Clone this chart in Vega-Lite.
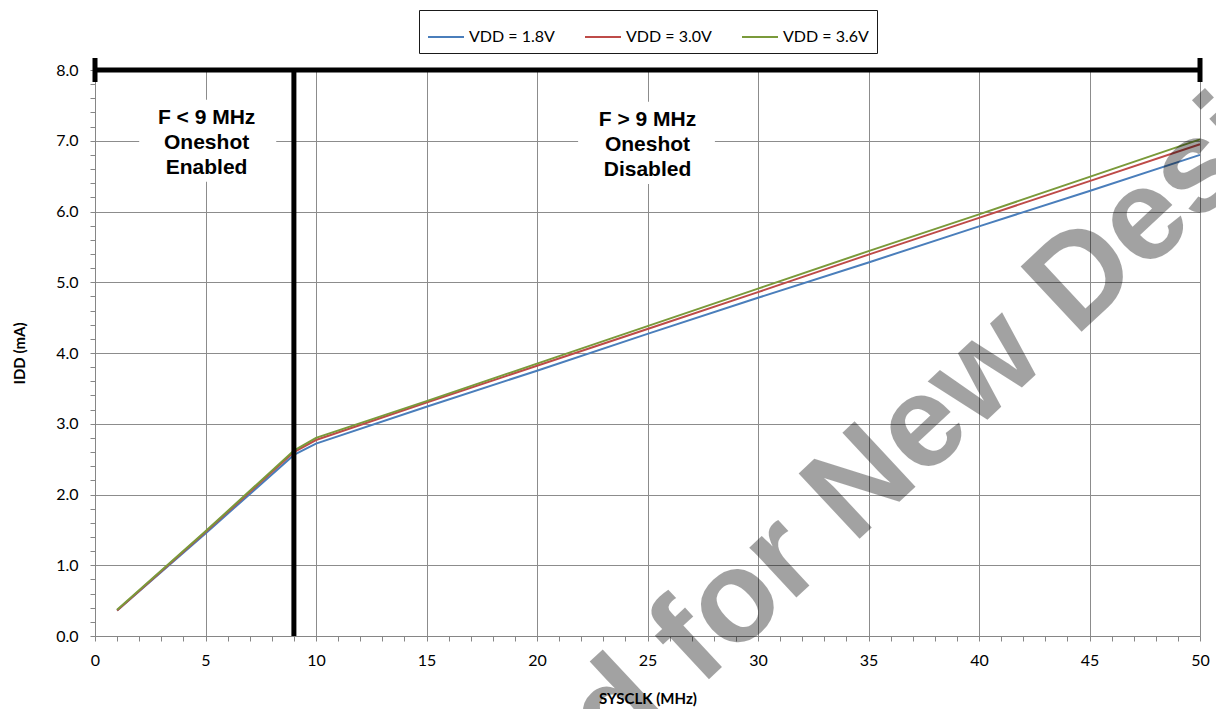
{
  "$schema": "https://vega.github.io/schema/vega-lite/v6.json",
  "width": 1105,
  "height": 566,
  "autosize": {"type": "none"},
  "padding": {"left": 95, "top": 70, "right": 16, "bottom": 73},
  "background": "white",
  "config": {
    "font": "Lato",
    "view": {"stroke": null},
    "axis": {
      "domainColor": "#868686",
      "tickColor": "#868686",
      "gridColor": "#8c8c8c",
      "gridWidth": 1,
      "labelColor": "#000000",
      "titleColor": "#000000",
      "labelFont": "Lato",
      "titleFont": "Lato",
      "labelFontSize": 16,
      "titleFontSize": 15,
      "titleFontWeight": "bold",
      "tickSize": 5
    }
  },
  "datasets": {
    "curves": [
      {"x": 1, "y": 0.36, "series": "VDD = 1.8V"},
      {"x": 5, "y": 1.45, "series": "VDD = 1.8V"},
      {"x": 9, "y": 2.56, "series": "VDD = 1.8V"},
      {"x": 10, "y": 2.72, "series": "VDD = 1.8V"},
      {"x": 15, "y": 3.24, "series": "VDD = 1.8V"},
      {"x": 20, "y": 3.75, "series": "VDD = 1.8V"},
      {"x": 25, "y": 4.27, "series": "VDD = 1.8V"},
      {"x": 30, "y": 4.78, "series": "VDD = 1.8V"},
      {"x": 35, "y": 5.28, "series": "VDD = 1.8V"},
      {"x": 40, "y": 5.79, "series": "VDD = 1.8V"},
      {"x": 45, "y": 6.29, "series": "VDD = 1.8V"},
      {"x": 50, "y": 6.80, "series": "VDD = 1.8V"},
      {"x": 1, "y": 0.36, "series": "VDD = 3.0V"},
      {"x": 5, "y": 1.47, "series": "VDD = 3.0V"},
      {"x": 9, "y": 2.60, "series": "VDD = 3.0V"},
      {"x": 10, "y": 2.77, "series": "VDD = 3.0V"},
      {"x": 15, "y": 3.30, "series": "VDD = 3.0V"},
      {"x": 20, "y": 3.82, "series": "VDD = 3.0V"},
      {"x": 25, "y": 4.34, "series": "VDD = 3.0V"},
      {"x": 30, "y": 4.86, "series": "VDD = 3.0V"},
      {"x": 35, "y": 5.39, "series": "VDD = 3.0V"},
      {"x": 40, "y": 5.91, "series": "VDD = 3.0V"},
      {"x": 45, "y": 6.43, "series": "VDD = 3.0V"},
      {"x": 50, "y": 6.95, "series": "VDD = 3.0V"},
      {"x": 1, "y": 0.37, "series": "VDD = 3.6V"},
      {"x": 5, "y": 1.48, "series": "VDD = 3.6V"},
      {"x": 9, "y": 2.62, "series": "VDD = 3.6V"},
      {"x": 10, "y": 2.80, "series": "VDD = 3.6V"},
      {"x": 15, "y": 3.32, "series": "VDD = 3.6V"},
      {"x": 20, "y": 3.85, "series": "VDD = 3.6V"},
      {"x": 25, "y": 4.38, "series": "VDD = 3.6V"},
      {"x": 30, "y": 4.91, "series": "VDD = 3.6V"},
      {"x": 35, "y": 5.44, "series": "VDD = 3.6V"},
      {"x": 40, "y": 5.96, "series": "VDD = 3.6V"},
      {"x": 45, "y": 6.49, "series": "VDD = 3.6V"},
      {"x": 50, "y": 7.02, "series": "VDD = 3.6V"}
    ],
    "boxes": [
      {"x": 2.0, "x2": 8.2, "y": 6.42, "y2": 7.58},
      {"x": 21.86, "x2": 28.05, "y": 6.39, "y2": 7.55}
    ],
    "frame": [
      {"x": 0, "x2": 50, "y": 8, "y2": 8},
      {"x": 9, "x2": 9, "y": 0, "y2": 8},
      {"x": 0, "x2": 0, "y": 7.83, "y2": 8.17},
      {"x": 50, "x2": 50, "y": 7.83, "y2": 8.17}
    ],
    "notes": [
      {"x": 5.05, "y": 7.32, "label": "F < 9 MHz\nOneshot\nEnabled"},
      {"x": 25.0, "y": 7.29, "label": "F > 9 MHz\nOneshot\nDisabled"}
    ],
    "watermark": [
      {"x": 22.83, "y": -1.30, "label": "Not Recommended for New Designs"}
    ]
  },
  "encoding": {
    "x": {
      "field": "x",
      "type": "quantitative",
      "scale": {"domain": [0, 50], "nice": false, "zero": false},
      "axis": {
        "title": "SYSCLK (MHz)",
        "values": [0,1,2,3,4,5,6,7,8,9,10,11,12,13,14,15,16,17,18,19,20,21,22,23,24,25,26,27,28,29,30,31,32,33,34,35,36,37,38,39,40,41,42,43,44,45,46,47,48,49,50],
        "labelExpr": "datum.value % 5 == 0 ? datum.label : ''",
        "gridOpacity": {"condition": {"test": "datum.value % 5 == 0", "value": 1}, "value": 0},
        "labelPadding": 11,
        "titlePadding": 23,
        "labelFlush": false,
        "labelOverlap": false
      }
    },
    "y": {
      "field": "y",
      "type": "quantitative",
      "scale": {"domain": [0, 8], "nice": false, "zero": false},
      "axis": {
        "title": "IDD (mA)",
        "values": [0,0.2,0.4,0.6,0.8,1,1.2,1.4,1.6,1.8,2,2.2,2.4,2.6,2.8,3,3.2,3.4,3.6,3.8,4,4.2,4.4,4.6,4.8,5,5.2,5.4,5.6,5.8,6,6.2,6.4,6.6,6.8,7,7.2,7.4,7.6,7.8,8],
        "labelExpr": "abs(datum.value - round(datum.value)) < 0.001 ? format(datum.value, '.1f') : ''",
        "gridOpacity": {"condition": {"test": "abs(datum.value - round(datum.value)) < 0.001", "value": 1}, "value": 0},
        "labelPadding": 12,
        "titlePadding": 28,
        "labelFlush": false,
        "labelOverlap": false
      }
    }
  },
  "layer": [
    {
      "data": {"name": "curves"},
      "mark": {"type": "line", "strokeWidth": 2},
      "encoding": {
        "color": {
          "field": "series",
          "type": "nominal",
          "scale": {
            "domain": ["VDD = 1.8V", "VDD = 3.0V", "VDD = 3.6V"],
            "range": ["#4A7EBB", "#BE4B48", "#7A9A3A"]
          },
          "legend": {
            "title": null,
            "orient": "none",
            "legendX": 324,
            "legendY": -60,
            "direction": "horizontal",
            "columns": 3,
            "padding": 8,
            "strokeColor": "#1a1a1a",
            "fillColor": "white",
            "symbolType": "stroke",
            "symbolSize": 1296,
            "symbolStrokeWidth": 2,
            "labelFont": "Lato",
            "labelFontSize": 16,
            "labelColor": "#000000",
            "labelOffset": 4,
            "columnPadding": 26
          }
        }
      }
    },
    {
      "data": {"name": "boxes"},
      "mark": {"type": "rect", "fill": "white"},
      "encoding": {
        "x2": {"field": "x2"},
        "y2": {"field": "y2"}
      }
    },
    {
      "data": {"name": "frame"},
      "mark": {"type": "rule", "color": "black", "strokeWidth": 5, "strokeCap": "butt", "clip": false},
      "encoding": {
        "x2": {"field": "x2"},
        "y2": {"field": "y2"}
      }
    },
    {
      "data": {"name": "notes"},
      "mark": {
        "type": "text",
        "font": "Liberation Sans",
        "fontWeight": "bold",
        "fontSize": 21,
        "lineHeight": 25,
        "lineBreak": "\n",
        "align": "center",
        "baseline": "middle",
        "color": "black"
      },
      "encoding": {
        "text": {"field": "label", "type": "nominal"}
      }
    },
    {
      "data": {"name": "watermark"},
      "mark": {
        "type": "text",
        "font": "Liberation Sans",
        "fontWeight": "bold",
        "fontSize": 130,
        "angle": -43,
        "align": "center",
        "baseline": "middle",
        "fill": "#000000",
        "opacity": 0.36,
        "clip": false
      },
      "encoding": {
        "text": {"field": "label", "type": "nominal"}
      }
    }
  ]
}
